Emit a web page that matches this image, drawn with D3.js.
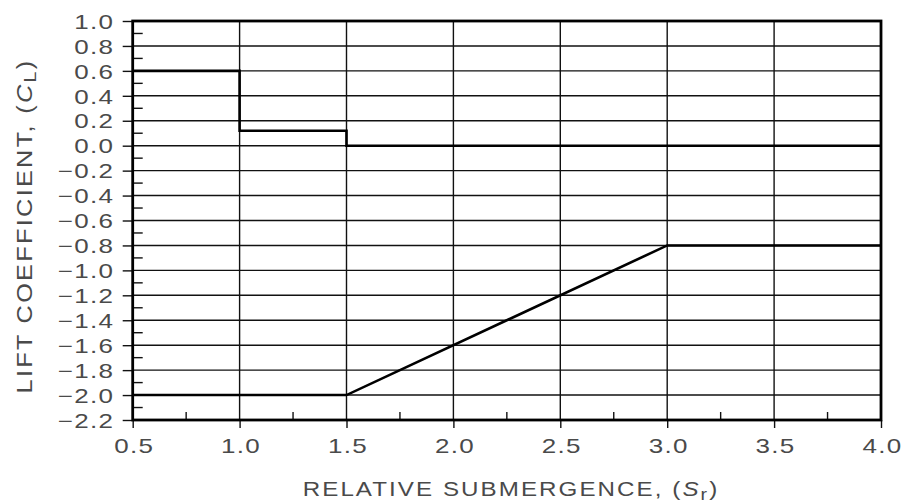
<!DOCTYPE html>
<html><head><meta charset="utf-8">
<script src="https://cdn.jsdelivr.net/npm/d3@7"></script>
<style>
body{margin:0;background:#fff;}
svg text{font-family:"Liberation Sans",Arial,Helvetica,sans-serif;fill:#4a4a4a;}
</style></head>
<body><svg id="c" width="903" height="503"></svg>
<script>
const xTicks = [0.5,1.0,1.5,2.0,2.5,3.0,3.5,4.0];
const yTicks = [1.0,0.8,0.6,0.4,0.2,0.0,-0.2,-0.4,-0.6,-0.8,-1.0,-1.2,-1.4,-1.6,-1.8,-2.0,-2.2];
const upperX = [0.5,1.0,1.0,1.5,1.5,4.0];
const upperY = [0.6,0.6,0.12,0.12,0.0,0.0];
const lowerX = [0.5,1.5,3.0,4.0];
const lowerY = [-2.0,-2.0,-0.8,-0.8];
const xLabel = "RELATIVE  SUBMERGENCE,  ";
const yLabel = "LIFT  COEFFICIENT,  ";

const svg = d3.select("#c");
const L=132.7,R=881,T=21,B=420;
const x = d3.scaleLinear().domain([0.5,4.0]).range([L,R]);
const y = d3.scaleLinear().domain([-2.2,1.0]).range([B,T]);
const ink = "#111";

// gridlines
svg.append("g").selectAll("line").data(yTicks).join("line")
  .attr("x1",L).attr("x2",R).attr("y1",d=>y(d)).attr("y2",d=>y(d))
  .attr("stroke",ink).attr("stroke-width",1.4);
svg.append("g").selectAll("line").data(xTicks).join("line")
  .attr("y1",T).attr("y2",B).attr("x1",d=>x(d)).attr("x2",d=>x(d))
  .attr("stroke",ink).attr("stroke-width",1.4);

// minor ticks
const yMinor = d3.range(-21,10,2).map(v=>v/10);
svg.append("g").selectAll("line").data(yMinor).join("line")
  .attr("x1",L).attr("x2",L+10).attr("y1",d=>y(d)).attr("y2",d=>y(d))
  .attr("stroke",ink).attr("stroke-width",1.4);
const xMinor = [0.75,1.25,1.75,2.25,2.75,3.25,3.75];
svg.append("g").selectAll("line").data(xMinor).join("line")
  .attr("x1",d=>x(d)).attr("x2",d=>x(d)).attr("y1",B).attr("y2",B-8)
  .attr("stroke",ink).attr("stroke-width",1.4);

// axes (outward major ticks + labels)
const fmt = d=>{ const s=Math.abs(d).toFixed(1); return d<-1e-9 ? "\u2212"+s : s; };
const yAxis = svg.append("g").attr("transform",`translate(${L},0)`)
  .call(d3.axisLeft(y).tickValues(yTicks).tickSize(10).tickFormat(fmt));
const xAxis = svg.append("g").attr("transform",`translate(0,${B})`)
  .call(d3.axisBottom(x).tickValues(xTicks).tickSize(8).tickFormat(d=>d.toFixed(1)));
[yAxis,xAxis].forEach(a=>{
  a.select(".domain").remove();
  a.selectAll(".tick line").attr("stroke",ink).attr("stroke-width",1.4);
  a.selectAll(".tick text").style("font-size","20px").style("letter-spacing","1px")
    .attr("fill","#4a4a4a").attr("x",0).attr("y",0);
});
yAxis.selectAll(".tick text").attr("dy","0.36em")
  .attr("transform","translate(-18.5,0) scale(1.3,1)");
xAxis.selectAll(".tick text").attr("dy",0)
  .attr("transform","translate(1,33) scale(1.3,1)");

// frame
svg.append("rect").attr("x",L).attr("y",T).attr("width",R-L).attr("height",B-T)
  .attr("fill","none").attr("stroke","#000").attr("stroke-width",2.8);

// data lines
const line = d3.line().x(d=>x(d[0])).y(d=>y(d[1]));
svg.append("path").attr("d",line(upperX.map((v,i)=>[v,upperY[i]])))
  .attr("fill","none").attr("stroke","#000").attr("stroke-width",2.6);
svg.append("path").attr("d",line(lowerX.map((v,i)=>[v,lowerY[i]])))
  .attr("fill","none").attr("stroke","#000").attr("stroke-width",2.6);

// axis titles
const xt = svg.append("text").attr("transform","translate(511,496) scale(1.15,1)")
  .attr("text-anchor","middle").style("font-size","21px").style("letter-spacing","1.8px");
xt.append("tspan").text(xLabel);
xt.append("tspan").text("(");
xt.append("tspan").style("font-style","italic").text("S");
xt.append("tspan").attr("dy",4).style("font-size","17px").text("r");
xt.append("tspan").attr("dy",-4).text(")");

const yt = svg.append("text").attr("transform","translate(32,226) rotate(-90) scale(1.15,1)")
  .attr("text-anchor","middle").style("font-size","22px").style("letter-spacing","2px");
yt.append("tspan").text(yLabel);
yt.append("tspan").text("(");
yt.append("tspan").style("font-style","italic").text("C");
yt.append("tspan").attr("dy",4).style("font-size","17px").text("L");
yt.append("tspan").attr("dy",-4).text(")");
</script></body></html>
